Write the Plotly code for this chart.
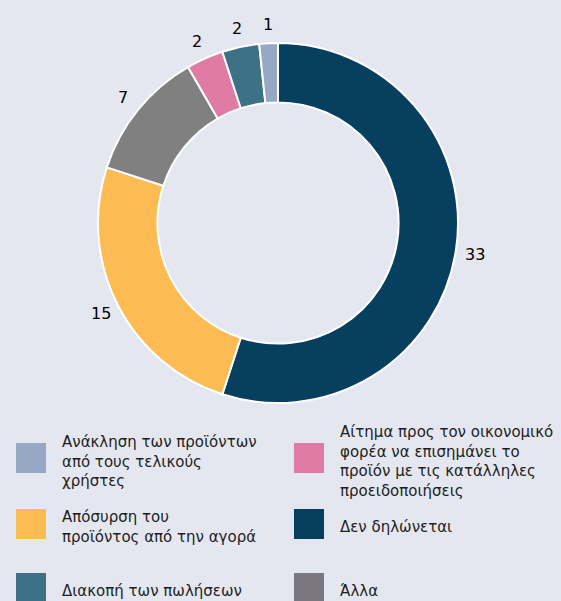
import math
import plotly.graph_objects as go

# categories in clockwise order starting at 12 o'clock
categories = [
    "Δεν δηλώνεται",
    "Απόσυρση του προϊόντος από την αγορά",
    "Άλλα",
    "Αίτημα προς τον οικονομικό φορέα να επισημάνει το προϊόν με τις κατάλληλες προειδοποιήσεις",
    "Διακοπή των πωλήσεων",
    "Ανάκληση των προϊόντων από τους τελικούς χρήστες",
]
values = [33, 15, 7, 2, 2, 1]
slice_colors = ["#073f5e", "#fdbb54", "#808080", "#e07ba5", "#3e7086", "#97a8c4"]

# legend, as laid out in the picture (2 columns x 3 rows)
legend_labels = [
    "Ανάκληση των προϊόντων<br>από τους τελικούς<br>χρήστες",
    "Αίτημα προς τον οικονομικό<br>φορέα να επισημάνει το<br>προϊόν με τις κατάλληλες<br>προειδοποιήσεις",
    "Απόσυρση του<br>προϊόντος από την αγορά",
    "Δεν δηλώνεται",
    "Διακοπή των πωλήσεων",
    "Άλλα",
]
legend_colors = ["#97a8c4", "#e07ba5", "#fdbb54", "#073f5e", "#3e7086", "#7a7780"]

W, H = 561, 601
bg = "#e4e7ef"
cx, cy, R = 278, 223, 180   # pie centre and outer radius, px

fig = go.Figure(go.Pie(
    labels=categories,
    values=values,
    hole=0.67,
    sort=False,
    direction="clockwise",
    rotation=0,
    marker=dict(colors=slice_colors, line=dict(color="white", width=2)),
    textinfo="none",
    hoverinfo="label+value",
    showlegend=False,
    domain=dict(x=[(cx - R) / W, (cx + R) / W], y=[(H - cy - R) / H, (H - cy + R) / H]),
))

annotations = []
# value labels just outside each slice, at the slice's middle angle
total = sum(values)
cum = 0
for v in values:
    mid = (cum + v / 2) / total * 2 * math.pi
    cum += v
    lr = R + 19
    annotations.append(dict(xref="paper", yref="paper",
                            x=(cx + lr * math.sin(mid)) / W,
                            y=1 - (cy - lr * math.cos(mid)) / H,
                            text=str(v), showarrow=False,
                            xanchor="center", yanchor="middle",
                            font=dict(size=16, color="#000000", family="DejaVu Sans")))

# hand-built legend
col_x = [16, 294]
row_y = [458, 524, 588]
shapes = []
for i, (lab, col) in enumerate(zip(legend_labels, legend_colors)):
    r, c = divmod(i, 2)
    x0 = col_x[c]
    yc = row_y[r]
    shapes.append(dict(type="rect", xref="paper", yref="paper",
                       x0=x0 / W, x1=(x0 + 30) / W,
                       y0=1 - (yc + 15) / H, y1=1 - (yc - 15) / H,
                       fillcolor=col, line=dict(width=0)))
    annotations.append(dict(xref="paper", yref="paper", x=(x0 + 44) / W, y=1 - (yc + 3) / H,
                            text=lab, showarrow=False, xanchor="left", yanchor="middle",
                            align="left", font=dict(size=15, color="#1e1e1e", family="DejaVu Sans")))

fig.update_layout(
    width=W, height=H,
    margin=dict(l=0, r=0, t=0, b=0),
    paper_bgcolor=bg, plot_bgcolor=bg,
    shapes=shapes, annotations=annotations,
)

fig.write_html("out.html", config=dict(displayModeBar=False),
               post_script="document.body.style.margin='0';document.body.style.overflow='hidden';")
